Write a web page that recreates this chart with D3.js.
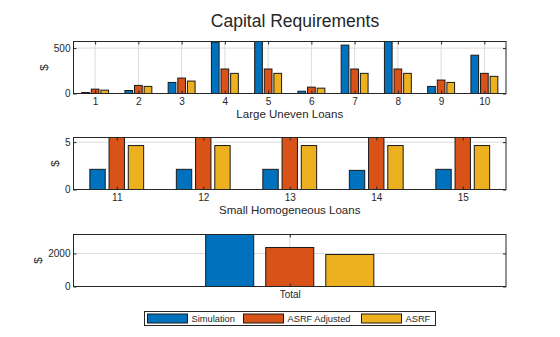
<!DOCTYPE html>
<html>
<head>
<meta charset="utf-8">
<script src="https://cdn.jsdelivr.net/npm/d3@7"></script>
<style>
  body { margin: 0; background: #fff; }
  text { font-family: Arial, "Liberation Sans", Helvetica, sans-serif; fill: #262626; }
</style>
</head>
<body>
<svg id="chart" width="560" height="337"></svg>
<script>
const seriesNames = ['Simulation', 'ASRF Adjusted', 'ASRF']
const seriesColors = ['#0072BD', '#D95319', '#EDB120']

// large uneven loans, obligors 1..10
const largeLoans = [1, 2, 3, 4, 5, 6, 7, 8, 9, 10]
const largeSim = [11, 33, 122, 565, 720, 25, 533, 640, 78, 422]
const largeAdj = [48, 89, 170, 270, 270, 70, 270, 270, 148, 222]
const largeAsrf = [37, 78, 137, 222, 222, 59, 222, 222, 122, 189]
const largeTicks = [0, 500]

// small homogeneous loans, obligors 11..15
const smallLoans = [11, 12, 13, 14, 15]
const smallSim = [2.13, 2.13, 2.13, 2.02, 2.13]
const smallAdj = [6.1, 6.1, 6.1, 6.1, 6.1]
const smallAsrf = [4.64, 4.64, 4.64, 4.64, 4.64]
const smallTicks = [0, 5]

// portfolio total
const totalCats = ['Total']
const totalSim = [3400]
const totalAdj = [2364]
const totalAsrf = [1939]
const totalTicks = [0, 2000]

const svg = d3.select('#chart')
const left = 73.5, right = 506

svg.append('text')
  .attr('x', 295).attr('y', 26.5)
  .attr('text-anchor', 'middle')
  .style('font-size', '17.5px')
  .text('Capital Requirements')

function panel(id, cfg) {
  const { top, bottom, xs, labels, series, xDomain, yMax, yTicks, xlabel } = cfg
  const x = d3.scaleLinear().domain(xDomain).range([left, right])
  const y = d3.scaleLinear().domain([0, yMax]).range([bottom, top])
  const g = svg.append('g')

  g.append('clipPath').attr('id', 'clip' + id)
    .append('rect')
    .attr('x', left).attr('y', top)
    .attr('width', right - left).attr('height', bottom - top)

  // grid
  g.append('g').selectAll('line.gx').data(xs).join('line')
    .attr('x1', d => x(d)).attr('x2', d => x(d))
    .attr('y1', top).attr('y2', bottom)
    .attr('stroke', '#dcdcdc').attr('stroke-width', 1)
  g.append('g').selectAll('line.gy').data(yTicks).join('line')
    .attr('x1', left).attr('x2', right)
    .attr('y1', d => y(d)).attr('y2', d => y(d))
    .attr('stroke', '#dcdcdc').attr('stroke-width', 1)

  // grouped bars: 3 slots of 0.222, bar width 0.8 of a slot
  const slot = 0.2222, bw = slot * 0.8
  const bars = g.append('g').attr('clip-path', `url(#clip${id})`)
  series.forEach((vals, s) => {
    const off = (s - 1) * slot
    bars.append('g').selectAll('rect').data(vals).join('rect')
      .attr('x', (d, i) => x(xs[i] + off - bw / 2))
      .attr('width', (d, i) => x(xs[i] + bw / 2) - x(xs[i] - bw / 2))
      .attr('y', d => y(d))
      .attr('height', d => y(0) - y(d))
      .attr('fill', seriesColors[s])
      .attr('stroke', '#1a1a1a').attr('stroke-width', 1)
  })

  // axes with inward ticks on all four sides
  const fmt = (d, i) => labels[i]
  g.append('g').attr('transform', `translate(0,${bottom})`)
    .call(d3.axisBottom(x).tickValues(xs).tickFormat(fmt).tickSize(-3).tickPadding(4))
  g.append('g').attr('transform', `translate(0,${top})`)
    .call(d3.axisTop(x).tickValues(xs).tickFormat('').tickSize(-3))
  const yl = g.append('g').attr('transform', `translate(${left},0)`)
    .call(d3.axisLeft(y).tickValues(yTicks).tickFormat(d3.format('d')).tickSize(-3).tickPadding(3))
  g.append('g').attr('transform', `translate(${right},0)`)
    .call(d3.axisRight(y).tickValues(yTicks).tickFormat('').tickSize(-3))
  g.selectAll('.domain').remove()
  g.selectAll('.tick line').attr('stroke', '#262626')
  g.selectAll('.tick text').style('font-size', '10px').attr('fill', '#262626')

  g.append('rect')
    .attr('x', left).attr('y', top)
    .attr('width', right - left).attr('height', bottom - top)
    .attr('fill', 'none').attr('stroke', '#262626').attr('stroke-width', 1)

  g.append('text')
    .attr('x', (left + right) / 2).attr('y', bottom + 24)
    .attr('text-anchor', 'middle')
    .style('font-size', '11.5px')
    .text(xlabel)

  // y label sits just left of the widest tick label
  let minX = Infinity
  yl.selectAll('.tick text').each(function () {
    const b = this.getBoundingClientRect()
    minX = Math.min(minX, b.left)
  })
  const yc = (top + bottom) / 2
  g.append('text')
    .attr('transform', `translate(${minX - 6},${yc}) rotate(-90)`)
    .attr('text-anchor', 'middle')
    .style('font-size', '11.5px')
    .text('$')
}

panel(1, {
  top: 41.5, bottom: 93.5,
  xs: largeLoans, labels: largeLoans.map(String),
  series: [largeSim, largeAdj, largeAsrf],
  xDomain: [0.5, 10.5], yMax: 573, yTicks: largeTicks,
  xlabel: 'Large Uneven Loans'
})

panel(2, {
  top: 137.5, bottom: 189.5,
  xs: smallLoans, labels: smallLoans.map(String),
  series: [smallSim, smallAdj, smallAsrf],
  xDomain: [10.5, 15.5], yMax: 5.49, yTicks: smallTicks,
  xlabel: 'Small Homogeneous Loans'
})

panel(3, {
  top: 234.5, bottom: 286.5,
  xs: [1], labels: totalCats,
  series: [totalSim, totalAdj, totalAsrf],
  xDomain: [0.2, 1.8], yMax: 3150, yTicks: totalTicks,
  xlabel: ''
})

// legend
const lg = svg.append('g')
lg.append('rect')
  .attr('x', 144.5).attr('y', 311.5).attr('width', 291).attr('height', 14)
  .attr('fill', '#fff').attr('stroke', '#262626').attr('stroke-width', 1)
const legX = [147.5, 243.5, 361.5]
seriesNames.forEach((name, i) => {
  lg.append('rect')
    .attr('x', legX[i]).attr('y', 314).attr('width', 40).attr('height', 9)
    .attr('fill', seriesColors[i]).attr('stroke', '#1a1a1a').attr('stroke-width', 1)
  lg.append('text')
    .attr('x', legX[i] + 44).attr('y', 321.5)
    .style('font-size', '9.3px')
    .text(name)
})
</script>
</body>
</html>
